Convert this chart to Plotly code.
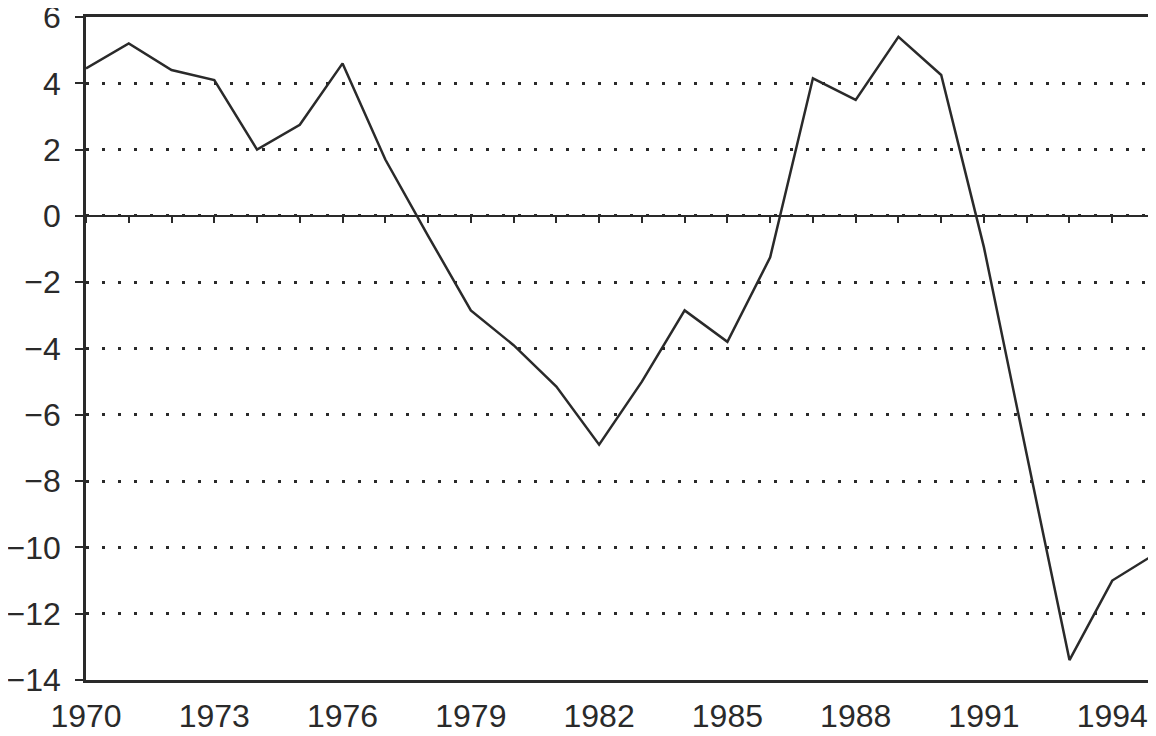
import plotly.graph_objects as go

years = list(range(1970, 1996))
values = [4.45, 5.2, 4.4, 4.1, 2.0, 2.75, 4.6, 1.7, -0.6, -2.85, -3.9, -5.15, -6.9,
          -5.0, -2.85, -3.8, -1.25, 4.15, 3.5, 5.4, 4.25, -0.95, -7.2, -13.4, -11.0, -10.2]
x_ticks = [1970, 1973, 1976, 1979, 1982, 1985, 1988, 1991, 1994]
y_ticks = [6, 4, 2, 0, -2, -4, -6, -8, -10, -12, -14]

ink = "#2a2a2a"
font = dict(family="Liberation Sans, Arial", size=32, color=ink)

fig = go.Figure()
fig.add_trace(go.Scatter(x=years, y=values, mode="lines",
                         line=dict(color=ink, width=2.5), showlegend=False))
# invisible trace on second x axis so the zero-line axis renders
fig.add_trace(go.Scatter(x=[years[0], years[-1]], y=[0, 0], xaxis="x2", mode="lines",
                         line=dict(width=0), showlegend=False, hoverinfo="skip"))

fig.update_layout(
    width=1148, height=728,
    margin=dict(l=78, r=1, t=9, b=56, autoexpand=False),
    paper_bgcolor="white", plot_bgcolor="white",
    font=font,
    xaxis=dict(range=[1970, 1995], tickvals=x_ticks, ticks="", showgrid=False,
               showline=True, linecolor=ink, linewidth=2.5, mirror=True,
               zeroline=False, tickfont=font, ticklabelstandoff=6, automargin=False,
               ticklabeloverflow="allow"),
    xaxis2=dict(range=[1970, 1995], overlaying="x", anchor="free", position=0.7,
                side="bottom", showline=True, linecolor=ink, linewidth=2,
                ticks="outside", ticklen=6, tickwidth=2, tickcolor=ink,
                tick0=1970, dtick=1, showticklabels=False, showgrid=False,
                zeroline=False, automargin=False),
    yaxis=dict(range=[-14, 6], tickvals=y_ticks, ticks="outside", ticklen=8,
               tickwidth=2, tickcolor=ink, showline=True, linecolor=ink, linewidth=2.5,
               mirror=True, zeroline=False, showgrid=True, gridcolor=ink, gridwidth=3,
               griddash="3px,13px", tickfont=font, ticklabelstandoff=8, automargin=False,
               ticklabeloverflow="allow"),
)

fig.write_html("out.html")
